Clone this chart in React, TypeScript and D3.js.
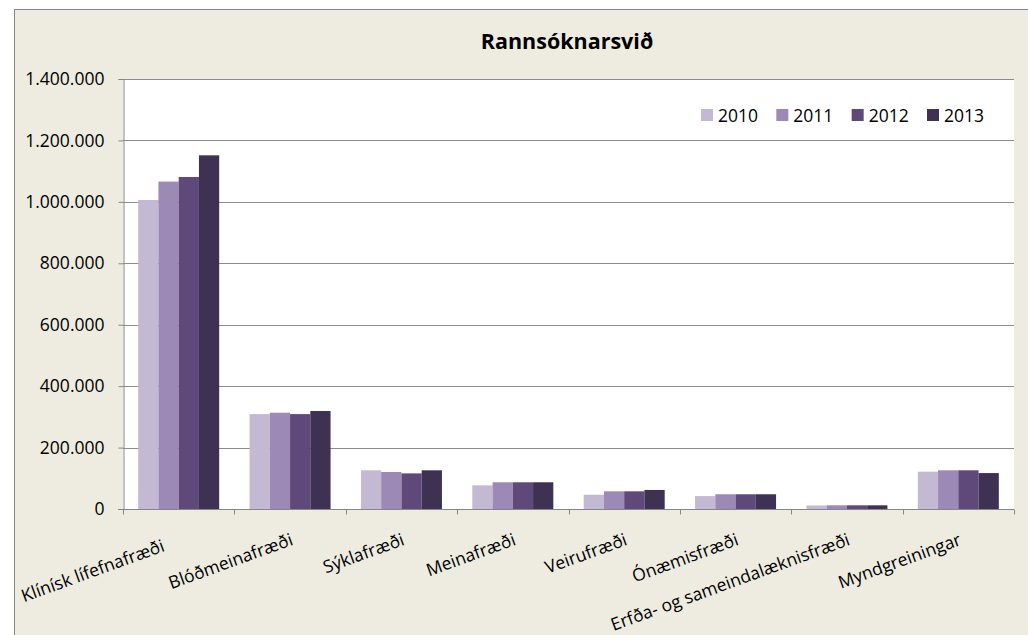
import React, { useEffect, useRef } from "react";
import * as d3 from "d3";

// data
const categories = [
  "Klínísk lífefnafræði\u00A0\u00A0\u00A0\u00A0",
  "Blóðmeinafræði",
  "Sýklafræði",
  "Meinafræði",
  "Veirufræði",
  "Ónæmisfræði",
  "Erfða- og sameindalæknisfræði",
  "Myndgreiningar",
];
const years = ["2010", "2011", "2012", "2013"];
const values2010 = [1006000, 309000, 126000, 77000, 46500, 42000, 11500, 121500];
const values2011 = [1066000, 313500, 120500, 87000, 57500, 48000, 12000, 126000];
const values2012 = [1081000, 309000, 116000, 87000, 57500, 48000, 12000, 126000];
const values2013 = [1151500, 319000, 126000, 87000, 62000, 48000, 12000, 117000];
const yTicks = [0, 200000, 400000, 600000, 800000, 1000000, 1200000, 1400000];
const colors = ["#C3B9D3", "#9C89B5", "#5F497A", "#3F3151"];
const title = "Rannsóknarsvið";

const W = 1028;
const H = 635;
const FONT = "'Open Sans', sans-serif";

export default function App() {
  const ref = useRef<SVGSVGElement>(null);

  useEffect(() => {
    const svg = d3.select(ref.current);
    svg.selectAll("*").remove();

    var margin = { top: 79, right: 14, bottom: 126, left: 123 };
    var series = [values2010, values2011, values2012, values2013];
    var data = categories.map((c, i) => ({
      key: c,
      vals: years.map((y, j) => ({ year: y, value: series[j][i] })),
    }));

    // chart area
    svg
      .append("rect")
      .attr("x", 14.5)
      .attr("y", 9.5)
      .attr("width", W)
      .attr("height", H)
      .attr("fill", "#EEECE1")
      .attr("stroke", "#868686")
      .attr("stroke-width", 1);

    var x0 = d3
      .scaleBand()
      .domain(categories)
      .range([margin.left, W - margin.right])
      .padding(0);
    var x1 = d3
      .scaleBand()
      .domain(years)
      .range([0, x0.bandwidth()])
      .paddingInner(0)
      .paddingOuter(0.75);
    var y = d3
      .scaleLinear()
      .domain([0, 1400000])
      .range([H - margin.bottom, margin.top]);

    // plot area
    svg
      .append("rect")
      .attr("x", margin.left)
      .attr("y", margin.top)
      .attr("width", W - margin.right - margin.left)
      .attr("height", H - margin.bottom - margin.top)
      .attr("fill", "white");

    // gridlines
    svg
      .append("g")
      .selectAll("line")
      .data(yTicks.slice(1))
      .join("line")
      .attr("x1", margin.left)
      .attr("x2", W - margin.right)
      .attr("y1", (d) => Math.round(y(d)) + 0.5)
      .attr("y2", (d) => Math.round(y(d)) + 0.5)
      .attr("stroke", "#8C8C8C")
      .attr("stroke-width", 1);

    // bars
    svg
      .append("g")
      .selectAll("g")
      .data(data)
      .join("g")
      .attr("transform", (d) => `translate(${x0(d.key)},0)`)
      .selectAll("rect")
      .data((d) => d.vals)
      .join("rect")
      .attr("x", (d) => x1(d.year)!)
      .attr("y", (d) => y(d.value))
      .attr("width", x1.bandwidth())
      .attr("height", (d) => y(0) - y(d.value))
      .attr("fill", (d, i) => colors[i]);

    var fmt = d3.formatLocale({
      decimal: ",",
      thousands: ".",
      grouping: [3],
      currency: ["", " kr"],
    }).format(",d");

    // y axis
    var yAxis = svg
      .append("g")
      .attr("transform", `translate(${margin.left + 0.5},0)`)
      .call(d3.axisLeft(y).tickValues(yTicks).tickFormat((d) => fmt(+d)).tickSize(5).tickPadding(14));
    yAxis.select(".domain").attr("stroke", "#868686");
    yAxis.selectAll(".tick line").attr("stroke", "#868686");
    yAxis
      .selectAll("text")
      .attr("fill", "#000")
      .style("font-family", FONT)
      .style("font-size", "17.5px");

    // x axis
    var y0 = Math.round(y(0)) + 0.5;
    svg
      .append("line")
      .attr("x1", margin.left - 5)
      .attr("x2", W - margin.right)
      .attr("y1", y0)
      .attr("y2", y0)
      .attr("stroke", "#868686");
    var tickXs = categories.map((c) => x0(c)!).concat([W - margin.right]);
    svg
      .append("g")
      .selectAll("line")
      .data(tickXs)
      .join("line")
      .attr("x1", (d) => Math.round(d) + 0.5)
      .attr("x2", (d) => Math.round(d) + 0.5)
      .attr("y1", y0)
      .attr("y2", y0 + 5)
      .attr("stroke", "#868686");

    svg
      .append("g")
      .selectAll("text")
      .data(categories)
      .join("text")
      .attr(
        "transform",
        (d) => `translate(${x0(d)! + x0.bandwidth() / 2 + 4},${y0 + 35}) rotate(-20)`
      )
      .attr("text-anchor", "end")
      .style("font-family", FONT)
      .style("font-size", "17.5px")
      .style("white-space", "pre")
      .attr("fill", "#000")
      .text((d) => d);

    // title
    svg
      .append("text")
      .attr("x", 567)
      .attr("y", 49)
      .attr("text-anchor", "middle")
      .style("font-family", FONT)
      .style("font-size", "21.5px")
      .style("font-weight", "bold")
      .attr("fill", "#000")
      .text(title);

    // legend
    var lx = d3.scalePoint().domain(years).range([701, 927]);
    var leg = svg
      .append("g")
      .selectAll("g")
      .data(years)
      .join("g")
      .attr("transform", (d) => `translate(${lx(d)},109)`);
    leg
      .append("rect")
      .attr("width", 12)
      .attr("height", 12)
      .attr("fill", (d, i) => colors[i]);
    leg
      .append("text")
      .attr("x", 17)
      .attr("y", 13)
      .style("font-family", FONT)
      .style("font-size", "17.5px")
      .attr("fill", "#000")
      .text((d) => d);
  }, []);

  return (
    <svg
      ref={ref}
      width={W}
      height={H}
      style={{ position: "absolute", left: 0, top: 0, display: "block" }}
    ></svg>
  );
}
